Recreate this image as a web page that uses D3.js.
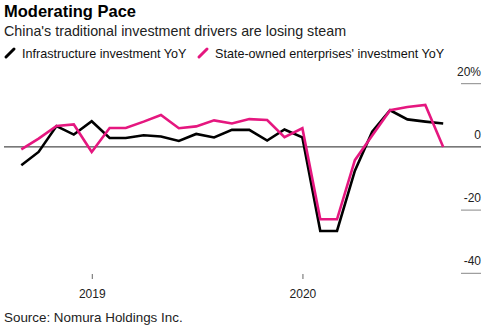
<!DOCTYPE html>
<html>
<head>
<meta charset="utf-8">
<script src="https://cdn.jsdelivr.net/npm/d3@7"></script>
<style>
  body { margin: 0; background: #fff; }
  text { font-family: "Liberation Sans", Arial, sans-serif; }
</style>
</head>
<body>
<script>
// monthly readings, Aug 2018 - Aug 2020 (dated at month end)
let months = d3.range(0, 25).map(i => new Date(2018, 8 + i, 0));

let infra = [-5.8, -1.6, 6.6, 3.9, 8.1, 2.8, 2.8, 3.7, 3.3, 1.9, 4.1, 3.0, 5.4, 5.4,
  2.0, 5.5, 3.0, -26.6, -26.6, -7.5, 4.8, 11.6, 8.7, 8.0, 7.4];
let soe = [-0.8, 2.6, 6.6, 7.1, -1.6, 6.0, 6.0, 8.0, 10.1, 5.9, 6.5, 8.4, 7.4, 8.8,
  8.5, 3.1, 5.9, -22.9, -22.9, -4.2, 3.6, 11.6, 12.6, 13.3, 0];

let yTicks = [20, 0, -20, -40];
let yearTicks = [new Date(2019, 0, 1), new Date(2020, 0, 1)];

let series = [
  { name: "Infrastructure investment YoY", values: infra, color: "#000000" },
  { name: "State-owned enterprises' investment YoY", values: soe, color: "#e5177f" }
];

let width = 499, height = 328;

let svg = d3.select("body").append("svg")
  .attr("width", width)
  .attr("height", height)

let x = d3.scaleTime()
  .domain([months[0], months[months.length - 1]])
  .range([21.3, 443.2]);

let y = d3.scaleLinear()
  .domain([-40, 20])
  .range([273.3, 83.7]);

// heading
svg.append("text")
  .attr("x", 4).attr("y", 17)
  .attr("font-size", 16.5).attr("font-weight", "bold")
  .attr("fill", "#000")
  .text("Moderating Pace");

svg.append("text")
  .attr("x", 4).attr("y", 36)
  .attr("font-size", 14.3)
  .attr("fill", "#222")
  .text("China's traditional investment drivers are losing steam");

// legend
let legendX = [5, 198];
series.forEach((s, i) => {
  let g = svg.append("g").attr("transform", `translate(${legendX[i]},0)`);
  g.append("line")
    .attr("x1", 1).attr("y1", 57)
    .attr("x2", 9).attr("y2", 49)
    .attr("stroke", s.color)
    .attr("stroke-width", 3)
    .attr("stroke-linecap", "round");
  g.append("text")
    .attr("x", 17).attr("y", 57.5)
    .attr("font-size", 12.6)
    .attr("fill", "#111")
    .text(s.name);
});

// y axis on the right: short grey ticks with labels above them
let yAxis = svg.append("g");
yAxis.selectAll("line.tick")
  .data(yTicks.filter(d => d != 0))
  .enter()
  .append("line")
  .attr("class", "tick")
  .attr("x1", 461).attr("x2", 481)
  .attr("y1", d => y(d)).attr("y2", d => y(d))
  .attr("stroke", "#888")
  .attr("stroke-width", 1);

yAxis.selectAll("text")
  .data(yTicks)
  .enter()
  .append("text")
  .attr("x", 481)
  .attr("y", d => y(d) - 8)
  .attr("text-anchor", "end")
  .attr("font-size", 12)
  .attr("fill", "#222")
  .text(d => d == 20 ? "20%" : d);

// zero line
svg.append("line")
  .attr("x1", 4).attr("x2", 481)
  .attr("y1", y(0)).attr("y2", y(0))
  .attr("stroke", "#222")
  .attr("stroke-width", 1);

// x axis
let xAxis = svg.append("g");
xAxis.selectAll("line")
  .data(yearTicks)
  .enter()
  .append("line")
  .attr("x1", d => x(d)).attr("x2", d => x(d))
  .attr("y1", 274).attr("y2", 279)
  .attr("stroke", "#666");

xAxis.selectAll("text")
  .data(yearTicks)
  .enter()
  .append("text")
  .attr("x", d => x(d))
  .attr("y", 298)
  .attr("text-anchor", "middle")
  .attr("font-size", 12)
  .attr("fill", "#222")
  .text(d => d.getFullYear());

// lines
let line = d3.line()
  .x((d, i) => x(months[i]))
  .y(d => y(d));

svg.selectAll("path.series")
  .data(series)
  .enter()
  .append("path")
  .attr("class", "series")
  .attr("d", d => line(d.values))
  .attr("fill", "none")
  .attr("stroke", d => d.color)
  .attr("stroke-width", 2.6)
  .attr("stroke-linejoin", "miter");

svg.append("text")
  .attr("x", 4).attr("y", 322)
  .attr("font-size", 13.4)
  .attr("fill", "#222")
  .text("Source: Nomura Holdings Inc.");
</script>
</body>
</html>
